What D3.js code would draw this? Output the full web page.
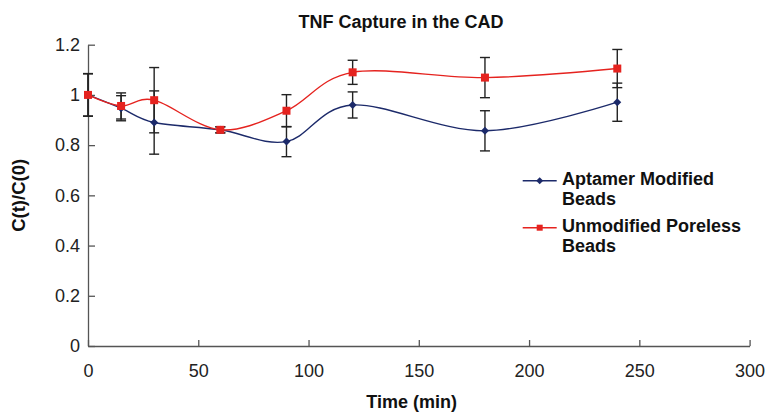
<!DOCTYPE html>
<html>
<head>
<meta charset="utf-8">
<script src="https://cdn.jsdelivr.net/npm/d3@7"></script>
<style>
  body { margin: 0; background: #fff; }
  svg { font-family: "Liberation Sans", Arial, sans-serif; }
</style>
</head>
<body>
<svg width="765" height="415"></svg>
<script>
// data
var times = [0, 15, 30, 60, 90, 120, 180, 240];
var aptamer = [1.0, 0.947, 0.89, 0.861, 0.814, 0.96, 0.857, 0.971];
var aptamerErr = [0.084, 0.05, 0.126, 0.012, 0.06, 0.052, 0.08, 0.076];
var unmodified = [1.0, 0.956, 0.979, 0.861, 0.937, 1.09, 1.069, 1.105];
var unmodifiedErr = [0.085, 0.052, 0.13, 0.012, 0.064, 0.048, 0.08, 0.076];
var xTicks = [0, 50, 100, 150, 200, 250, 300];
var yTicks = [0, 0.2, 0.4, 0.6, 0.8, 1, 1.2];

var svg = d3.select("svg");
var margin = { top: 44.7, right: 15.4, bottom: 69, left: 88 };
var width = 765 - margin.left - margin.right;
var height = 415 - margin.top - margin.bottom;

var g = svg.append("g").attr("transform", "translate(" + margin.left + "," + margin.top + ")");

var x = d3.scaleLinear().domain([0, 300]).range([0, width]);
var y = d3.scaleLinear().domain([0, 1.2]).range([height, 0]);

var series = [
  { name: "Aptamer Modified", name2: "Beads", values: aptamer, err: aptamerErr, color: "#1c2a6a", shape: "diamond" },
  { name: "Unmodified Poreless", name2: "Beads", values: unmodified, err: unmodifiedErr, color: "#e5231f", shape: "square" }
];

// axes, ticks pointing inward
var xAxis = d3.axisBottom(x).tickValues(xTicks).tickSizeInner(-6).tickSizeOuter(0).tickPadding(18);
var yAxis = d3.axisLeft(y).tickValues(yTicks).tickSizeInner(-7).tickSizeOuter(0).tickPadding(8)
  .tickFormat(function(d) { return d3.format("")(+d.toFixed(1)); });

var xg = g.append("g").attr("transform", "translate(0," + height + ")").call(xAxis);
var yg = g.append("g").call(yAxis);
[xg, yg].forEach(function(a) {
  a.select(".domain").attr("stroke", "#555").attr("stroke-width", 1.3);
  a.selectAll(".tick line").attr("stroke", "#555").attr("stroke-width", 1.3);
  a.selectAll(".tick text").attr("fill", "#222").style("font-size", "18px");
});

// error bars
series.forEach(function(s) {
  var eb = g.append("g");
  times.forEach(function(t, i) {
    var cx = x(t), hi = y(s.values[i] + s.err[i]), lo = y(s.values[i] - s.err[i]);
    eb.append("line").attr("x1", cx).attr("x2", cx).attr("y1", hi).attr("y2", lo);
    eb.append("line").attr("x1", cx - 5).attr("x2", cx + 5).attr("y1", hi).attr("y2", hi);
    eb.append("line").attr("x1", cx - 5).attr("x2", cx + 5).attr("y1", lo).attr("y2", lo);
  });
  eb.selectAll("line").attr("stroke", "#222").attr("stroke-width", 1.4);
});

var line = d3.line()
  .curve(d3.curveCardinal.tension(0))
  .x(function(d, i) { return x(times[i]); })
  .y(function(d) { return y(d); });

function marker(sel, s, size) {
  if (s.shape === "diamond") {
    sel.append("path")
      .attr("d", "M0," + (-size) + "L" + size + ",0L0," + size + "L" + (-size) + ",0Z")
      .attr("fill", s.color);
  } else {
    sel.append("rect")
      .attr("x", -size).attr("y", -size).attr("width", 2 * size).attr("height", 2 * size)
      .attr("fill", s.color);
  }
}

series.forEach(function(s) {
  g.append("path")
    .attr("d", line(s.values))
    .attr("fill", "none")
    .attr("stroke", s.color)
    .attr("stroke-width", 1.4);
  s.values.forEach(function(v, i) {
    var m = g.append("g").attr("transform", "translate(" + x(times[i]) + "," + y(v) + ")");
    marker(m, s, 4);
  });
});

// legend
var legend = svg.append("g");
series.forEach(function(s, i) {
  var ly = 180.7 + i * 47;
  var lg = legend.append("g").attr("transform", "translate(0," + ly + ")");
  lg.append("line").attr("x1", 522.7).attr("x2", 556.7).attr("y1", 0).attr("y2", 0)
    .attr("stroke", s.color).attr("stroke-width", 1.4);
  var m = lg.append("g").attr("transform", "translate(539.7,0)");
  marker(m, s, s.shape === "diamond" ? 3.5 : 3);
  lg.append("text").attr("x", 562).attr("y", 4.5).text(s.name)
    .style("font-size", "18px").style("font-weight", "bold").attr("fill", "#111");
  lg.append("text").attr("x", 562).attr("y", 24.5).text(s.name2)
    .style("font-size", "18px").style("font-weight", "bold").attr("fill", "#111");
});

// titles
svg.append("text").attr("x", 401).attr("y", 28).attr("text-anchor", "middle")
  .style("font-size", "18px").style("font-weight", "bold").attr("fill", "#111")
  .text("TNF Capture in the CAD");
svg.append("text").attr("x", 411.7).attr("y", 408).attr("text-anchor", "middle")
  .style("font-size", "18px").style("font-weight", "bold").attr("fill", "#111")
  .text("Time (min)");
svg.append("text").attr("transform", "translate(24.5," + (margin.top + height / 2) + ") rotate(-90)")
  .attr("text-anchor", "middle")
  .style("font-size", "18.5px").style("font-weight", "bold").attr("fill", "#111")
  .text("C(t)/C(0)");
</script>
</body>
</html>
